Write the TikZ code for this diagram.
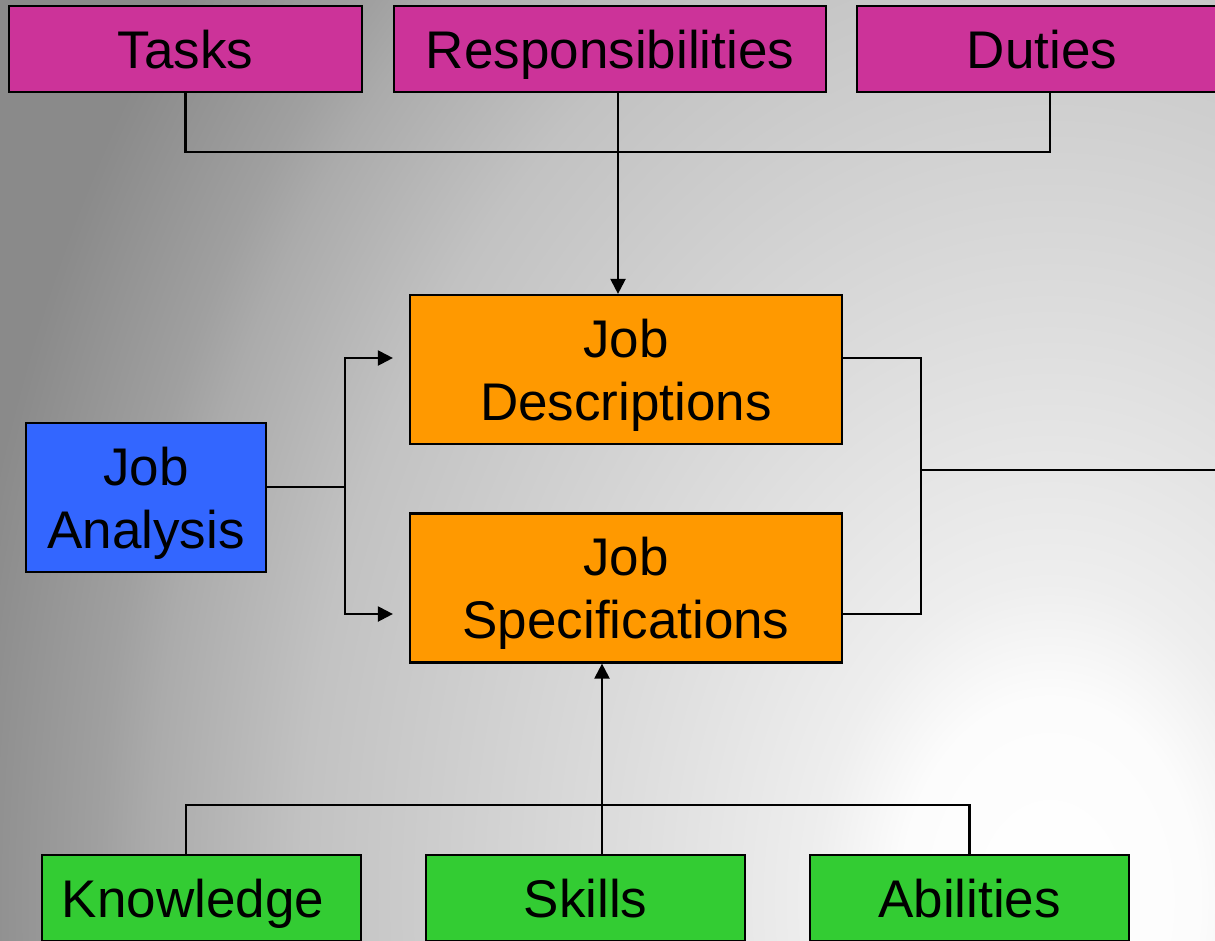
\documentclass[tikz,border=0pt]{standalone}
\usepackage{fontspec}
\setmainfont{Liberation Sans}
\usetikzlibrary{arrows.meta}
\definecolor{magbox}{HTML}{CC3399}
\definecolor{orabox}{HTML}{FF9900}
\definecolor{blubox}{HTML}{3366FF}
\definecolor{grebox}{HTML}{33CC33}
\definecolor{gA}{HTML}{FCFCFC}
\definecolor{gB}{HTML}{EEEEEE}
\definecolor{gC}{HTML}{DCDCDC}
\definecolor{gD}{HTML}{C2C2C2}
\definecolor{gE}{HTML}{ABABAB}
\definecolor{gF}{HTML}{A0A0A0}
\definecolor{gG}{HTML}{8A8A8A}
\pgfdeclareradialshading{bgshade}{\pgfpoint{0bp}{0bp}}{color(0bp)=(white); color(3.1bp)=(gA); color(4.9bp)=(gB); color(9.2bp)=(gC); color(15.6bp)=(gD); color(18.75bp)=(gE); color(19.8bp)=(gF); color(22.9bp)=(gG); color(25bp)=(gG); color(50bp)=(gG)}
\tikzset{
  box/.style={draw=black, line width=2.2pt, inner sep=0pt, align=center, text depth=0pt,
    font=\fontsize{53}{63}\selectfont},
  topbox/.style={box, fill=magbox, minimum height=86pt},
  midbox/.style={box, fill=orabox, minimum width=432pt, minimum height=149pt},
  anbox/.style={box, fill=blubox, minimum width=240pt, minimum height=149pt},
  botbox/.style={box, fill=grebox, minimum width=319pt, minimum height=86pt},
  conn/.style={draw=black, line width=2.2pt},
  arr/.style={conn, -{Triangle[length=15pt,width=15pt]}}
}
\begin{document}
\begin{tikzpicture}[x=1pt,y=-1pt]
\useasboundingbox (0,0) rectangle (1215,940);
\begin{scope}
\clip (0,0) rectangle (1215,940);
\fill[gG] (0,0) rectangle (1215,940);
\shade[shading=bgshade] (1050,900) ellipse [x radius=1200pt, y radius=1620pt];
\end{scope}
\begin{scope}
\clip (0,0) rectangle (1215,940);
% top boxes
\node[topbox, minimum width=353pt] (tasks) at (185.5,49) {Tasks};
\node[topbox, minimum width=432pt] (resp) at (610,49) {Responsibilities};
\node[topbox, minimum width=370pt] (duties) at (1042,49) {Duties};
% middle
\node[midbox] (jd) at (626,369.5) {Job\\Descriptions};
\node[midbox] (js) at (626,588) {Job\\Specifications};
\node[anbox] (ja) at (146,497.5) {Job\\Analysis};
% bottom
\node[botbox] (know) at (201.5,898) {Knowledge\hspace{17pt}};
\node[botbox] (skills) at (585.5,898) {Skills};
\node[botbox] (abil) at (969.5,898) {Abilities};
\coordinate (fork) at (345,487);
\coordinate (merge) at (921,470);
\coordinate (outR) at (1215,470);
% top connectors
\draw[conn] (tasks.south) -- ++(0,59) -| ([xshift=8pt]duties.south);
\draw[arr] ([xshift=8pt]resp.south) -- ([xshift=8pt]resp.south |- jd.north);
% analysis fork
\draw[conn] ([yshift=10.5pt]ja.east) -- (fork);
\draw[arr, shorten >=16pt] (fork) |- ([yshift=11.5pt]jd.west);
\draw[arr, shorten >=16pt] (fork) |- ([yshift=-26pt]js.west);
% right merge
\draw[conn] ([yshift=11.5pt]jd.east) -| (merge) |- ([yshift=-26pt]js.east);
\draw[conn] (merge) -- (outR);
% bottom connectors
\draw[conn] ([xshift=-15.5pt]know.north) -- ++(0,-49) -| (abil.north);
\draw[arr] ([xshift=16.5pt]skills.north) -- ([xshift=16.5pt]skills.north |- js.south);
\end{scope}
\end{tikzpicture}
\end{document}
